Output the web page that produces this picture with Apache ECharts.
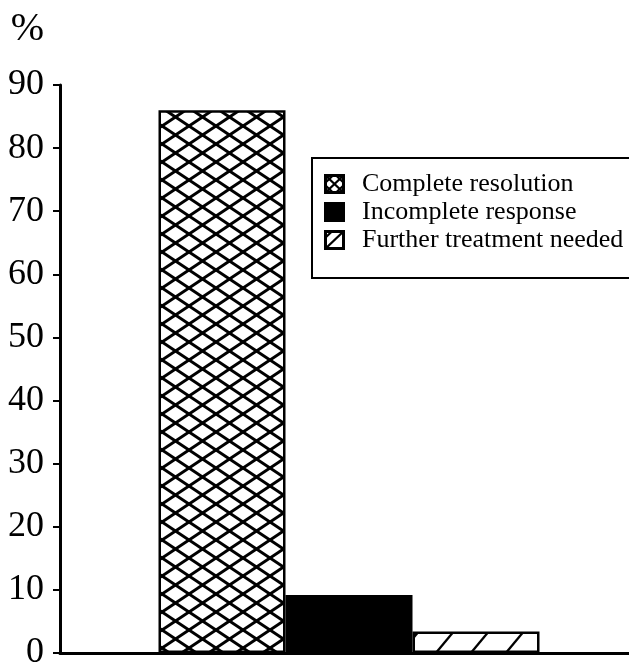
<!DOCTYPE html>
<html><head><meta charset="utf-8">
<script src="https://cdn.jsdelivr.net/npm/echarts@6/dist/echarts.min.js"></script>
<style>html,body{margin:0;padding:0;background:#fff}#c{width:629px;height:666px}</style>
</head><body><div id="c"></div>
<script>
// ---- data ----
const categories = [''];
const seriesNames = ['Complete resolution', 'Incomplete response', 'Further treatment needed'];
const seriesValues = [86, 9.2, 3.4];
const yMin = 0, yMax = 90, yStep = 10;
const yAxisName = '%';

// ---- fill patterns ----
function mk(w, h) { const c = document.createElement('canvas'); c.width = w; c.height = h; return c; }
function line(g, x1, y1, x2, y2) { g.beginPath(); g.moveTo(x1, y1); g.lineTo(x2, y2); g.stroke(); }

function crossTile() {
  const w = 27, h = 18, c = mk(w, h), g = c.getContext('2d');
  g.fillStyle = '#fff'; g.fillRect(0, 0, w, h);
  g.strokeStyle = '#000'; g.lineWidth = 3;
  for (const dx of [-w, 0, w]) for (const dy of [-h, 0, h]) {
    line(g, dx, dy, dx + w, dy + h);
    line(g, dx, dy + h, dx + w, dy);
  }
  return c;
}
function hatchTile() {
  const w = 35, h = 42, c = mk(w, h), g = c.getContext('2d');
  g.fillStyle = '#fff'; g.fillRect(0, 0, w, h);
  g.strokeStyle = '#000'; g.lineWidth = 2.4;
  for (const dx of [-w, 0, w]) line(g, dx, h, dx + w, 0);
  return c;
}
function icon(kind) {
  const W = 21, H = 20, c = mk(W, H), g = c.getContext('2d');
  g.fillStyle = kind === 'solid' ? '#000' : '#fff'; g.fillRect(0, 0, W, H);
  g.strokeStyle = '#000'; g.lineWidth = 2.2;
  if (kind === 'cross') {
    line(g, 0, 0, W, H); line(g, 0, H, W, 0);
    line(g, W / 2, 0, W, H / 2); line(g, W, H / 2, W / 2, H);
    line(g, W / 2, H, 0, H / 2); line(g, 0, H / 2, W / 2, 0);
  } else if (kind === 'hatch') {
    line(g, 0, H, W, 0);
    line(g, 0, H * 0.45, W * 0.45, 0);
  }
  g.lineWidth = 3; g.strokeRect(1.5, 1.5, W - 3, H - 3);
  return 'image://' + c.toDataURL();
}

const fills = [
  { image: crossTile(), repeat: 'repeat' },
  '#000',
  { image: hatchTile(), repeat: 'repeat' }
];
const icons = [icon('cross'), icon('solid'), icon('hatch')];

const font = 'Liberation Serif, Times New Roman, serif';
const chart = echarts.init(document.getElementById('c'), null, { renderer: 'canvas' });
chart.setOption({
  animation: false,
  backgroundColor: '#fff',
  grid: { left: 60, right: -9, top: 85, bottom: 13, containLabel: false, outerBoundsMode: 'none' },
  legend: {
    orient: 'vertical', left: 312, top: 158,
    padding: [13, 30, 25, 12], itemGap: 2, itemWidth: 21, itemHeight: 20,
    backgroundColor: '#fff', borderColor: '#000', borderWidth: 2, borderRadius: 0,
    selectedMode: false,
    textStyle: { fontFamily: font, fontSize: 26, color: '#000', padding: [0, 0, 0, 12], lineHeight: 26 },
    data: seriesNames.map((n, i) => ({ name: n, icon: icons[i] }))
  },
  xAxis: {
    type: 'category', data: categories,
    axisLine: { lineStyle: { color: '#000', width: 3 } },
    axisTick: { show: false }, axisLabel: { show: false }, splitLine: { show: false }
  },
  yAxis: {
    type: 'value', min: yMin, max: yMax, interval: yStep,
    name: yAxisName, nameLocation: 'end', nameGap: 36,
    nameTextStyle: { fontFamily: font, fontSize: 40, color: '#000', align: 'right', padding: [0, 16, 0, 0] },
    axisLine: { show: true, lineStyle: { color: '#000', width: 3 } },
    axisTick: { show: true, length: 7, lineStyle: { color: '#000', width: 2 } },
    axisLabel: { fontFamily: font, fontSize: 36, color: '#000', margin: 16 },
    splitLine: { show: false }
  },
  series: seriesNames.map((n, i) => ({
    name: n, type: 'bar', data: [seriesValues[i]],
    barWidth: 127, barGap: '0%', silent: true,
    itemStyle: { color: fills[i], borderColor: '#000', borderWidth: 2.5 },
    emphasis: { disabled: true }
  }))
});
</script></body></html>
